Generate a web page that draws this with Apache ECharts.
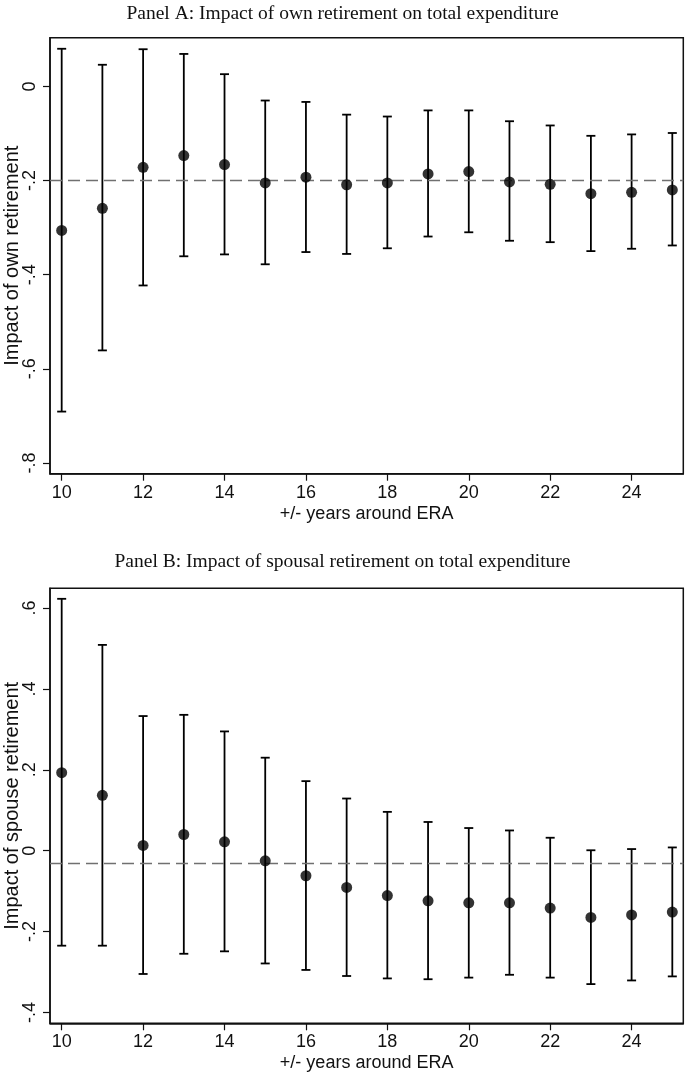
<!DOCTYPE html>
<html><head><meta charset="utf-8">
<script src="https://cdn.jsdelivr.net/npm/echarts@6/dist/echarts.min.js"></script>
<style>html,body{margin:0;padding:0;background:#fff}#c{width:685px;height:1075px}</style>
</head><body><div id="c"></div>
<script>
// ---- data ----
const years = [10,11,12,13,14,15,16,17,18,19,20,21,22,23,24,25];
const estA = [-0.306,-0.259,-0.172,-0.147,-0.166,-0.205,-0.193,-0.209,-0.205,-0.186,-0.181,-0.203,-0.208,-0.228,-0.225,-0.220];
const loA  = [-0.691,-0.561,-0.423,-0.361,-0.357,-0.378,-0.352,-0.356,-0.344,-0.319,-0.310,-0.328,-0.331,-0.350,-0.345,-0.338];
const hiA  = [0.080,0.046,0.079,0.069,0.026,-0.030,-0.033,-0.060,-0.064,-0.051,-0.051,-0.074,-0.083,-0.105,-0.102,-0.099];
const refA = [-0.204];
const estB = [0.193,0.137,0.013,0.040,0.022,-0.025,-0.062,-0.091,-0.111,-0.124,-0.129,-0.129,-0.142,-0.165,-0.159,-0.152];
const loB  = [-0.235,-0.235,-0.305,-0.255,-0.249,-0.279,-0.295,-0.310,-0.316,-0.318,-0.314,-0.307,-0.314,-0.330,-0.321,-0.311];
const hiB  = [0.623,0.509,0.333,0.336,0.295,0.230,0.172,0.129,0.096,0.071,0.056,0.050,0.032,0.001,0.004,0.008];
const refB = [-0.025];
const xTicks = [10,12,14,16,18,20,22,24];
const yTicksA = [-0.8,-0.6,-0.4,-0.2,0];
const yTicksB = [-0.4,-0.2,0,0.2,0.4,0.6];
const titles = ['Panel A: Impact of own retirement on total expenditure','Panel B: Impact of spousal retirement on total expenditure'];
const yNames = ['Impact of own retirement','Impact of spouse retirement'];
const xName = '+/- years around ERA';

// ---- chart ----
const INK = '#111';
const SANS = '"Liberation Sans", Arial, Helvetica, sans-serif';
const SERIF = '"Liberation Serif", "Times New Roman", serif';
function fmtY(v){
  if (Math.abs(v) < 1e-9) return '0';
  const s = Math.abs(v).toFixed(1).replace(/^0/, '');
  return (v < 0 ? '-' : '') + s;
}
function errRender(params, api){
  const x = api.value(0);
  const p1 = api.coord([x, api.value(1)]);
  const p2 = api.coord([x, api.value(2)]);
  const w = 4.5;
  const st = {stroke: '#000', lineWidth: 1.8};
  return {type:'group', children:[
    {type:'line', shape:{x1:p1[0], y1:p1[1], x2:p2[0], y2:p2[1]}, style:st},
    {type:'line', shape:{x1:p1[0]-w, y1:p1[1], x2:p1[0]+w, y2:p1[1]}, style:st},
    {type:'line', shape:{x1:p2[0]-w, y1:p2[1], x2:p2[0]+w, y2:p2[1]}, style:st}
  ]};
}
function xAxisCfg(idx){
  return {
    type:'value', gridIndex:idx, min:9.713, max:25.27,
    name:xName, nameLocation:'middle', nameGap:31, nameMoveOverlap:false,
    nameTextStyle:{fontFamily:SANS, fontSize:18, color:INK},
    axisLine:{show:true, onZero:false, lineStyle:{color:INK, width:1.5}},
    axisTick:{show:true, length:7, customValues:xTicks, lineStyle:{color:INK, width:1.2}},
    axisLabel:{customValues:xTicks, margin:10, fontFamily:SANS, fontSize:18, color:INK},
    splitLine:{show:false}
  };
}
function yAxisCfg(idx, min, max, ticks, name){
  return {
    type:'value', gridIndex:idx, min:min, max:max,
    name:name, nameLocation:'middle', nameGap:28, nameMoveOverlap:false,
    nameTextStyle:{fontFamily:SANS, fontSize:20, color:INK},
    axisLine:{show:true, onZero:false, lineStyle:{color:INK, width:1.5}},
    axisTick:{show:true, length:7, customValues:ticks, lineStyle:{color:INK, width:1.2}},
    axisLabel:{customValues:ticks, rotate:90, margin:11, fontFamily:SANS, fontSize:18, color:INK, formatter:fmtY},
    splitLine:{show:false}
  };
}
function dotSeries(idx, est, ref){
  return {
    type:'scatter', xAxisIndex:idx, yAxisIndex:idx, symbol:'circle', symbolSize:11,
    itemStyle:{color:'#000'}, z:5,
    data: years.map((y,i)=>[y, est[i]]),
    markLine:{silent:true, symbol:'none', label:{show:false},
      lineStyle:{color:'#707070', width:1.4, type:[12,6]},
      data:[{yAxis:ref[0]}]}
  };
}
function errSeries(idx, lo, hi){
  return {
    type:'custom', xAxisIndex:idx, yAxisIndex:idx, renderItem:errRender, z:4,
    encode:{x:0, y:[1,2]},
    data: years.map((y,i)=>[y, lo[i], hi[i]])
  };
}
const chart = echarts.init(document.getElementById('c'), null, {renderer:'canvas'});
chart.setOption({
  animation:false,
  backgroundColor:'#fff',
  title:[
    {text:titles[0], left:'center', top:-1, textStyle:{fontFamily:SERIF, fontSize:19.5, fontWeight:'normal', color:INK}},
    {text:titles[1], left:'center', top:547, textStyle:{fontFamily:SERIF, fontSize:19.5, fontWeight:'normal', color:INK}}
  ],
  grid:[
    {left:50, top:37.7, width:633.3, height:436, show:true, borderColor:INK, borderWidth:1.5, containLabel:false, outerBoundsMode:'none'},
    {left:50, top:588.3, width:633.3, height:435, show:true, borderColor:INK, borderWidth:1.5, containLabel:false, outerBoundsMode:'none'}
  ],
  xAxis:[xAxisCfg(0), xAxisCfg(1)],
  yAxis:[
    yAxisCfg(0, -0.823, 0.1035, yTicksA, yNames[0]),
    yAxisCfg(1, -0.427, 0.649, yTicksB, yNames[1])
  ],
  series:[
    errSeries(0, loA, hiA), dotSeries(0, estA, refA),
    errSeries(1, loB, hiB), dotSeries(1, estB, refB)
  ]
});
</script>
</body></html>
